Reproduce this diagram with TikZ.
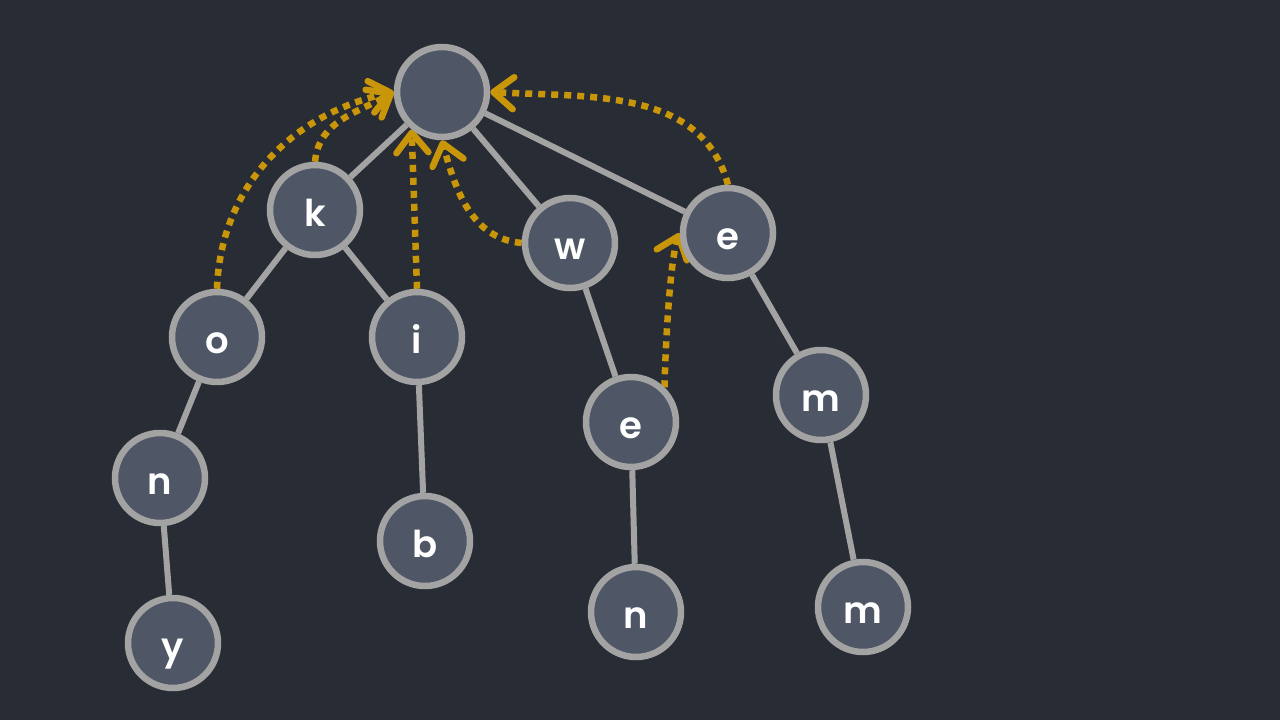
\documentclass[tikz,border=0pt]{standalone}
\usepackage{fontspec}
\setmainfont{Poppins}[UprightFont=* SemiBold]
\usepackage{tikz}
\usetikzlibrary{arrows.meta}
\definecolor{triebg}{RGB}{40,44,52}
\definecolor{triefill}{RGB}{79,86,102}
\definecolor{triegray}{RGB}{163,163,163}
\definecolor{triegold}{RGB}{201,150,10}
\pgfdeclarelayer{back}
\pgfsetlayers{back,main}

\begin{document}
\begin{tikzpicture}[x=1pt, y=-1pt,
  vert/.style={circle, draw=triegray, fill=triefill, line width=6.5pt, minimum size=90pt, inner sep=0pt, text=white, font=\fontsize{37}{40}\selectfont, text height=32pt, text depth=0pt},
  branch/.style={draw=triegray, line width=6pt},
  sufflink/.style={draw=triegold, line width=6.5pt, dash pattern=on 7pt off 6pt, -{Straight Barb[length=20pt,width=32pt,round]}}]
\node[vert] (root) at (442,92) {};
\node[vert] (k) at (315,210) {k};
\node[vert] (ko) at (217,337) {o};
\node[vert] (ki) at (417,337) {i};
\node[vert] (w) at (570,243) {w};
\node[vert] (e) at (728,233) {e};
\node[vert] (kon) at (160,478) {n};
\node[vert] (kib) at (425,541) {b};
\node[vert] (we) at (631,422) {e};
\node[vert] (em) at (821,395) {m};
\node[vert] (kony) at (173,643) {y};
\node[vert] (wen) at (636,612) {n};
\node[vert] (emm) at (863,607) {m};
\begin{pgfonlayer}{back}
\fill[triebg] (0,0) rectangle (1280,720);
\draw[branch] (root) -- (k) (root) -- (w) (root) -- (e);
\draw[branch] (k) -- (ko) (k) -- (ki) (ko) -- (kon) (kon) -- (kony) (ki) -- (kib);
\draw[branch] (w) -- (we) (we) -- (wen) (e) -- (em) (em) -- (emm);
% suffix links
\draw[sufflink] (ko.north) to[out=88, in=192] (root.west);
\draw[sufflink] (k.north) to[out=85, in=210] (root.west);
\draw[sufflink] (ki.north) -- (root.231);
\draw[sufflink] (w.west) to[out=175, in=-75] (root.south);
\draw[sufflink] (e.north) to[out=105, in=-3] (root.east);
\draw[sufflink] (we.46) to[out=89, in=250, looseness=0.5] (e.west);
\end{pgfonlayer}
\end{tikzpicture}
\end{document}
